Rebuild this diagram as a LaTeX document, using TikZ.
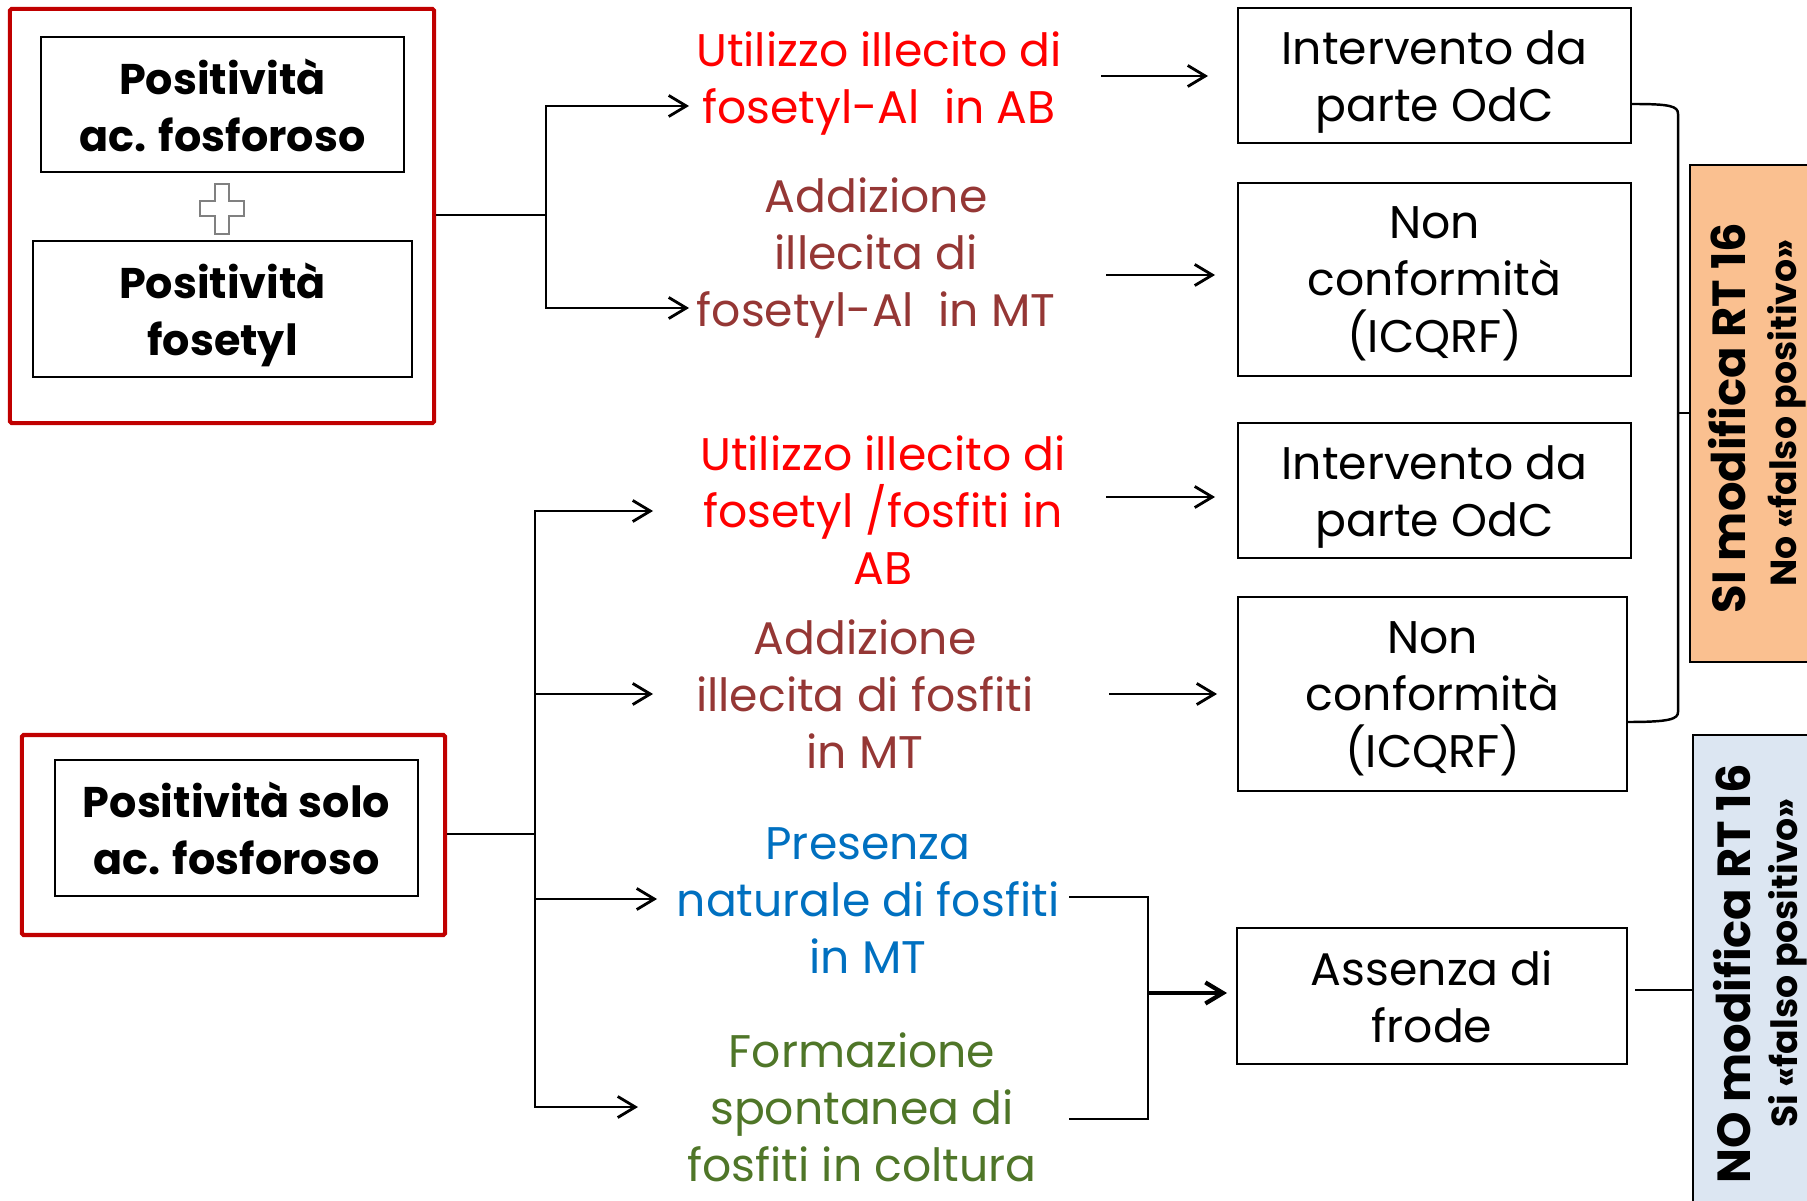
\documentclass[tikz,border=0pt]{standalone}
\usepackage{fontspec}
\setmainfont{Poppins}
\usetikzlibrary{arrows.meta}
\definecolor{boxred}{RGB}{192,0,0}
\definecolor{txtred}{RGB}{255,0,0}
\definecolor{txtbrown}{RGB}{149,55,53}
\definecolor{txtblue}{RGB}{0,112,192}
\definecolor{txtgreen}{RGB}{79,118,40}
\definecolor{fillorange}{RGB}{250,192,144}
\definecolor{fillblue}{RGB}{220,230,242}
\tikzset{
  txt/.style={align=center,inner sep=0pt,yshift=-2.5pt,font=\fontsize{13}{16.2}\selectfont,
    execute at begin node=\strut,execute at end node=\strut},
  btxt/.style={txt,font=\fontsize{12.2}{16.2}\selectfont\bfseries},
  outbox/.style={draw,line width=0.6pt,inner sep=0pt,minimum width=3.93cm,label={[txt]center:#1}},
  inbox/.style={draw,line width=0.6pt,inner sep=0pt,label={[btxt]center:#1}},
  redbox/.style={draw=boxred,line width=1.2pt,rounded corners=0.5pt,inner sep=0pt},
  bandtxt/.style={align=center,inner sep=0pt,rotate=90,font=\fontsize{13.2}{16}\selectfont\bfseries},
  bandsub/.style={bandtxt,font=\fontsize{10.3}{12}\selectfont\bfseries},
  arr/.style={-{Straight Barb[length=5pt,width=6pt]},line width=0.8pt},
  conn/.style={line width=0.8pt}
}
\begin{document}
\begin{tikzpicture}[x=0.01cm,y=-0.01cm]
  \useasboundingbox (0,0) rectangle (1807,1201);
  % left side
  \node[redbox,minimum width=4.24cm,minimum height=4.14cm] (R1) at (222,216) {};
  \node[inbox={Positività\\ac. fosforoso},minimum width=3.63cm,minimum height=1.35cm] (P1) at (222.5,104.5) {};
  \node[inbox={Positività\\fosetyl},minimum width=3.79cm,minimum height=1.36cm] (P2) at (222.5,309) {};
  \draw[gray,line width=0.5pt,fill=white] (215,184) -- (229,184) -- (229,201) -- (244,201) -- (244,216) -- (229,216)
    -- (229,234) -- (215,234) -- (215,216) -- (200,216) -- (200,201) -- (215,201) -- cycle;
  \node[redbox,minimum width=4.23cm,minimum height=2.00cm] (R2) at (233.5,835) {};
  \node[inbox={Positività solo\\ac. fosforoso},minimum width=3.63cm,minimum height=1.36cm] (P3) at (236.5,828) {};
  % middle texts
  \node[txt,text=txtred] (T1) at (879,77) {Utilizzo illecito di\\fosetyl-Al\ \ in AB};
  \node[txt,text=txtbrown] (T2) at (876,252) {Addizione\\illecita di\\fosetyl-Al\ \ in MT};
  \node[txt,text=txtred] (T3) at (883,510) {Utilizzo illecito di\\fosetyl /fosfiti in\\AB};
  \node[txt,text=txtbrown] (T4) at (865,694) {Addizione\\illecita di fosfiti\\in MT};
  \node[txt,text=txtblue] (T5) at (868,900) {Presenza\\naturale di fosfiti\\in MT};
  \node[txt,text=txtgreen] (T6) at (862,1107) {Formazione\\spontanea di\\fosfiti in coltura};
  % right boxes
  \node[outbox={Intervento da\\parte OdC},minimum height=1.35cm] (B1) at (1434.5,75.5) {};
  \node[outbox={Non\\conformità\\(ICQRF)},minimum height=1.93cm] (B2) at (1434.5,279.5) {};
  \node[outbox={Intervento da\\parte OdC},minimum height=1.35cm] (B3) at (1434.5,490.5) {};
  \node[outbox={Non\\conformità\\(ICQRF)},minimum width=3.89cm,minimum height=1.94cm] (B4) at (1432.5,694) {};
  \node[outbox={Assenza di\\frode},minimum width=3.90cm,minimum height=1.36cm] (B5) at (1432,996) {};
  % outcome bands
  \draw[fill=fillorange,line width=0.6pt] (1690,165) rectangle (1830,662);
  \node[bandtxt] (S1) at (1727,418) {SI modifica RT 16};
  \node[bandsub] (S2) at (1787,413) {No «falso positivo»};
  \draw[fill=fillblue,line width=0.6pt] (1693,735) rectangle (1830,1220);
  \node[bandtxt] (N1) at (1732,974) {NO modifica RT 16};
  \node[bandsub] (N2) at (1788,963) {Si «falso positivo»};
  % connectors, top group
  \coordinate (j1) at (546,215);
  \draw[conn] (R1.east |- j1) -- (j1);
  \draw[arr] (j1) |- (689,106);
  \draw[arr] (j1) |- (689,308);
  % connectors, bottom group
  \coordinate (j2) at (535,834);
  \draw[conn] (R2.east |- j2) -- (j2);
  \draw[arr] (j2) |- (653,511);
  \draw[arr] (j2) |- (653,694);
  \draw[arr] (j2) |- (657,899);
  \draw[arr] (j2) |- (638,1107);
  % arrows to the outcomes
  \draw[arr] (1101,76) -- (1208,76);
  \draw[arr] (1106,275) -- (1215,275);
  \draw[arr] (1106,497) -- (1215,497);
  \draw[arr] (1109,694) -- (1217,694);
  \draw[conn] (1069,897) -- (1148,897) -- (1148,1119) -- (1069,1119);
  \draw[arr,line width=1.2pt] (1148,993) -- (1227,993);
  % bracket to the bands
  \draw[conn,line width=0.7pt] (B1.east |- 0,104) .. controls (1670,104) and (1678,106) .. (1678,114)
    -- (1678,712) .. controls (1678,719) and (1670,722) .. (B4.east |- 0,722);
  \draw[conn,line width=0.7pt] (1678,413) -- (1690,413);
  \draw[conn] (1635,990) -- (1693,990);
\end{tikzpicture}
\end{document}
